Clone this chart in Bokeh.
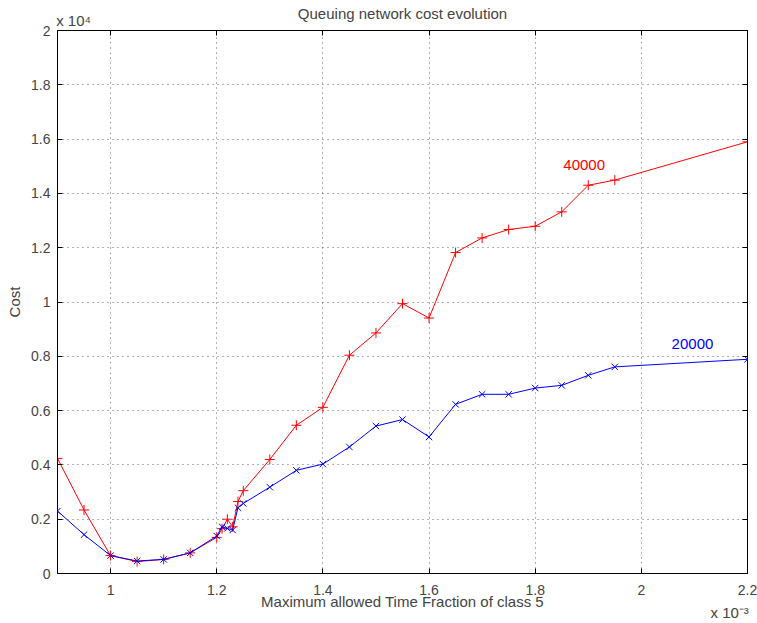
from bokeh.plotting import figure
from bokeh.models import ColumnDataSource, FixedTicker, LinearAxis, Label, Range1d, CustomJSTickFormatter
from bokeh.embed import file_html
from bokeh.resources import INLINE

# Data (x in units of 1e-3, cost in absolute units)
x_red = [0.90, 0.95, 1.00, 1.05, 1.10, 1.15, 1.20, 1.21, 1.22, 1.23, 1.24, 1.25,
         1.30, 1.35, 1.40, 1.45, 1.50, 1.55, 1.60, 1.65, 1.70, 1.75, 1.80, 1.85,
         1.90, 1.95, 2.20]
cost_40000 = [4240, 2340, 660, 440, 520, 760, 1330, 1650, 2000, 1720, 2650, 3050,
              4200, 5460, 6120, 8040, 8860, 9940, 9410, 11820, 12360, 12670, 12790, 13320,
              14300, 14490, 15900]
x_blue = [0.90, 0.95, 1.00, 1.05, 1.10, 1.15, 1.20, 1.21, 1.22, 1.23, 1.24, 1.25,
          1.30, 1.35, 1.40, 1.45, 1.50, 1.55, 1.60, 1.65, 1.70, 1.75, 1.80, 1.85,
          1.90, 1.95, 2.20]
cost_20000 = [2300, 1430, 660, 460, 520, 760, 1380, 1720, 1660, 1600, 2420, 2580,
              3180, 3800, 4030, 4660, 5430, 5670, 5030, 6230, 6600, 6600, 6830, 6930,
              7300, 7610, 7890]
x_ticks = [1.0, 1.2, 1.4, 1.6, 1.8, 2.0, 2.2]
y_ticks = [0, 0.2, 0.4, 0.6, 0.8, 1.0, 1.2, 1.4, 1.6, 1.8, 2.0]
y_tick_labels = ["0", "0.2", "0.4", "0.6", "0.8", "1", "1.2", "1.4", "1.6", "1.8", "2"]
x_tick_labels = ["1", "1.2", "1.4", "1.6", "1.8", "2", "2.2"]
title_text = "Queuing network cost evolution"
x_label = "Maximum allowed Time Fraction of class 5"
y_label = "Cost"
y_exponent = "x 10\u2074"
x_exponent = "x 10\u207b\u00b3"

FONT = "Liberation Sans"
scale = 1e4
NB = "\u00a0"

red = ColumnDataSource(dict(x=x_red, y=[c / scale for c in cost_40000]))
blue = ColumnDataSource(dict(x=x_blue, y=[c / scale for c in cost_20000]))

p = figure(width=757, height=623, output_backend="svg", toolbar_location=None,
           x_range=Range1d(0.9, 2.2), y_range=Range1d(0, 2),
           min_border_left=57, min_border_right=10, min_border_top=30, min_border_bottom=50)

# Title: line 1 = title (centred), line 2 = y exponent at the left edge of the frame
p.title.text = (NB * 58 + title_text + NB * 58) + "\n" + (y_exponent + NB * 157)
p.title.align = "center"
p.title.text_font = FONT
p.title.text_font_size = "15px"
p.title.text_font_style = "normal"
p.title.text_line_height = 0.4
p.title.offset = 0
p.title.standoff = 3

p.outline_line_color = "black"
p.outline_line_width = 1
p.background_fill_color = "white"
p.border_fill_color = "white"

# Axes
xa = p.xaxis[0]
ya = p.yaxis[0]
xa.ticker = FixedTicker(ticks=x_ticks)
ya.ticker = FixedTicker(ticks=y_ticks)
xa.major_label_overrides = {t: l for t, l in zip(x_ticks, x_tick_labels)}
ya.major_label_overrides = {t: l for t, l in zip(y_ticks, y_tick_labels)}
for a in (xa, ya):
    a.major_tick_in = 5
    a.major_tick_out = 0
    a.minor_tick_line_color = None
    a.major_label_text_font = FONT
    a.major_label_text_font_size = "14px"
    a.axis_label_text_font = FONT
    a.axis_label_text_font_size = "15px"
    a.axis_label_text_font_style = "normal"
    a.axis_line_color = "black"
    a.major_tick_line_color = "black"
# x label: line 1 = label (centred), line 2 = x exponent at the right edge
xa.axis_label = (NB * 49 + x_label + NB * 49) + "\n" + (NB * 157 + x_exponent)
xa.axis_label_text_line_height = 0.67
ya.axis_label = y_label
xa.major_label_standoff = 11
ya.major_label_standoff = 7
xa.axis_label_standoff = -5
ya.axis_label_standoff = 5

blank = CustomJSTickFormatter(code="return '';")
for loc in ("right", "above"):
    ax = LinearAxis(ticker=FixedTicker(ticks=y_ticks if loc == "right" else x_ticks),
                    formatter=blank, major_tick_in=5, major_tick_out=0,
                    minor_tick_line_color=None, axis_label=None,
                    major_label_standoff=0)
    p.add_layout(ax, loc)

# Grid
for g in (p.xgrid[0], p.ygrid[0]):
    g.grid_line_color = "black"
    g.grid_line_alpha = 0.6
    g.grid_line_dash = "1 4"
    g.grid_line_width = 1
p.xgrid[0].ticker = FixedTicker(ticks=x_ticks)
p.ygrid[0].ticker = FixedTicker(ticks=y_ticks)

# Series
p.line("x", "y", source=red, line_color="red", line_width=1)
p.scatter("x", "y", source=red, marker="cross", size=10, line_color="red", line_width=1)
p.line("x", "y", source=blue, line_color="blue", line_width=1)
p.scatter("x", "y", source=blue, marker="x", size=9, line_color="blue", line_width=1)

# Series labels
p.add_layout(Label(x=1.853, y=1.506, text="40000", text_color="red", text_font=FONT,
                   text_font_size="15px", text_baseline="middle"))
p.add_layout(Label(x=2.057, y=0.844, text="20000", text_color="blue", text_font=FONT,
                   text_font_size="15px", text_baseline="middle"))

open("out.html", "w").write(file_html(p, INLINE))
